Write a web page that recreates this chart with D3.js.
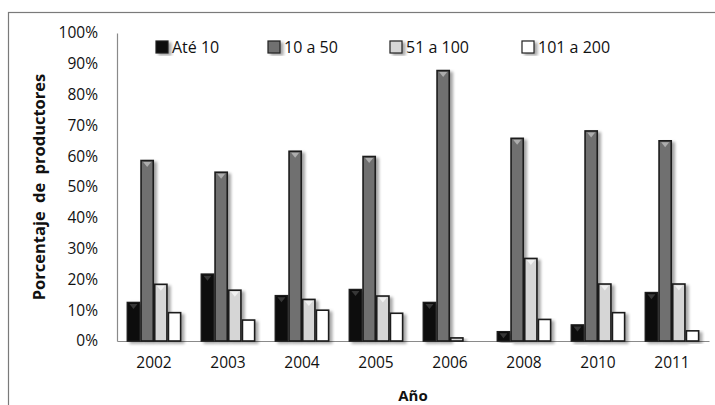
<!DOCTYPE html>
<html>
<head>
<meta charset="utf-8">
<script src="https://cdn.jsdelivr.net/npm/d3@7"></script>
<style>
  html, body { margin: 0; padding: 0; background: #fff; }
  svg { display: block; font-family: "Open Sans", Lato, sans-serif; }
</style>
</head>
<body>
<svg id="chart" width="715" height="405"></svg>
<script>
// ---- data ----
const years = ["2002", "2003", "2004", "2005", "2006", "2008", "2010", "2011"];
const seriesNames = ["Até 10", "10 a 50", "51 a 100", "101 a 200"];
const ate10 =    [12.5, 21.7, 14.7, 16.7, 12.5, 3.0, 5.2, 15.7];
const de10a50 =  [58.6, 54.8, 61.6, 59.9, 87.8, 65.8, 68.2, 65.0];
const de51a100 = [18.4, 16.5, 13.5, 14.6, 1.0, 26.8, 18.5, 18.5];
const de101a200 = [9.2, 6.8, 10.0, 9.0, 0, 7.0, 9.2, 3.3];
const yTicks = [0, 10, 20, 30, 40, 50, 60, 70, 80, 90, 100];
const yTitle = "Porcentaje de productores";
const xTitle = "Año";

const allSeries = [ate10, de10a50, de51a100, de101a200];
const fills = ["#080808", "#6f6f6f", "#d6d6d6", "#ffffff"];
const marks = ["#3c3c3c", "#b4b4b4", "#f4f4f4", "#ffffff"];
const FONT = "'Open Sans', Lato, sans-serif";

const svg = d3.select("#chart");

// outer frame
svg.append("rect").attr("x", 8.5).attr("y", 12.5).attr("width", 720).attr("height", 410)
  .attr("fill", "none").attr("stroke", "#7a7a7a").attr("stroke-width", 1.2);

const x0 = d3.scaleBand().domain(years).range([117, 709]).paddingInner(0.26).paddingOuter(0.13);
const x1 = d3.scaleBand().domain(d3.range(seriesNames.length)).range([0, x0.bandwidth()]);
const y = d3.scaleLinear().domain([0, 100]).range([341, 33]);

// shadow filter
const defs = svg.append("defs");
const f = defs.append("filter").attr("id", "sh").attr("x", "-30%").attr("y", "-10%").attr("width", "180%").attr("height", "130%");
f.append("feGaussianBlur").attr("in", "SourceAlpha").attr("stdDeviation", 1.6).attr("result", "b");
f.append("feOffset").attr("in", "b").attr("dx", 2.5).attr("dy", 1.5).attr("result", "o");
f.append("feComponentTransfer").attr("in", "o").attr("result", "o2")
  .append("feFuncA").attr("type", "linear").attr("slope", 0.35);
const m = f.append("feMerge");
m.append("feMergeNode").attr("in", "o2");
m.append("feMergeNode").attr("in", "SourceGraphic");

// axes
const yAxis = d3.axisLeft(y).tickValues(yTicks).tickSize(0).tickPadding(19).tickFormat(d => d + "%");
const gy = svg.append("g").attr("transform", "translate(117,0)").call(yAxis);
gy.select(".domain").attr("stroke", "#8a8a8a").attr("stroke-width", 1.2);
gy.selectAll("text").attr("font-size", 15.5).attr("fill", "#111").attr("font-family", FONT);

const xAxis = d3.axisBottom(x0).tickSize(0).tickPadding(16);
const gx = svg.append("g").attr("transform", "translate(0,341)").call(xAxis);
gx.select(".domain").attr("stroke", "#8a8a8a").attr("stroke-width", 1.2);
gx.selectAll("text").attr("font-size", 15.5).attr("fill", "#111").attr("font-family", FONT);

// bars
const groups = svg.append("g").selectAll("g").data(years).join("g")
  .attr("transform", d => `translate(${x0(d)},0)`);

groups.each(function(yr, i) {
  const g = d3.select(this);
  allSeries.forEach((s, k) => {
    const v = s[i];
    if (v <= 0) return;
    const bx = x1(k), bw = x1.bandwidth();
    g.append("rect")
      .attr("x", bx + 0.75).attr("y", y(v))
      .attr("width", bw - 1.5).attr("height", y(0) - y(v))
      .attr("fill", fills[k]).attr("stroke", "#1a1a1a").attr("stroke-width", 1.6)
      .attr("filter", "url(#sh)");
    if (y(0) - y(v) > 8) {
      const cx = bx + bw / 2, ty = y(v) + 1.5;
      g.append("path")
        .attr("d", `M${cx - 4},${ty}L${cx + 4},${ty}L${cx},${ty + 5}Z`)
        .attr("fill", marks[k]).attr("opacity", 0.9);
    }
  });
});

// legend
const legX = [156, 268, 390, 522];
const leg = svg.append("g");
seriesNames.forEach((name, k) => {
  leg.append("rect").attr("x", legX[k]).attr("y", 41).attr("width", 12).attr("height", 12)
    .attr("fill", fills[k]).attr("stroke", "#222").attr("stroke-width", 1.2)
    .attr("filter", "url(#sh)");
  leg.append("text").attr("x", legX[k] + 16).attr("y", 47).attr("dy", "0.35em")
    .attr("font-size", 16).attr("fill", "#111").text(name);
});

// titles
svg.append("text").attr("transform", "translate(45,187) rotate(-90)")
  .attr("text-anchor", "middle").attr("font-weight", "bold").attr("font-size", 16.5)
  .attr("fill", "#111").attr("word-spacing", 4).text(yTitle);
svg.append("text").attr("x", 413).attr("y", 396).attr("dy", "0.35em")
  .attr("text-anchor", "middle").attr("font-weight", "bold").attr("font-size", 15)
  .attr("fill", "#111").text(xTitle);
</script>
</body>
</html>
